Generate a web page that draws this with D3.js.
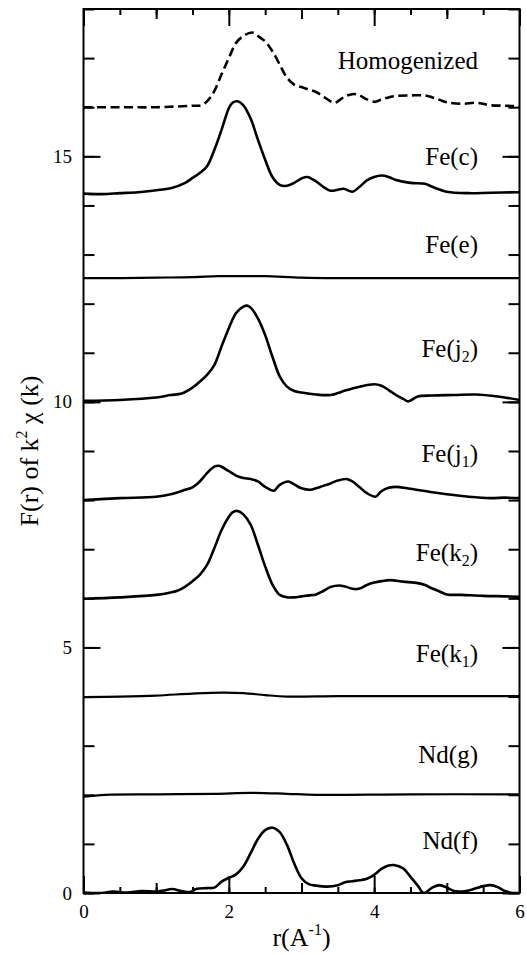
<!DOCTYPE html>
<html>
<head>
<meta charset="utf-8">
<script src="https://cdn.jsdelivr.net/npm/d3@7"></script>
<style>
  html, body { margin: 0; padding: 0; background: #fff; }
  svg { display: block; }
  svg text { font-family: "Liberation Serif", "DejaVu Serif", "Times New Roman", serif; }
</style>
</head>
<body>
<svg id="chart" width="527" height="954"></svg>
<script>
// ---- data -----------------------------------------------------------------
// Fourier-transform magnitude F(r) of k^2 chi(k) for each site, stacked with a vertical offset.
const seriesNames = ["Homogenized", "Fe(c)", "Fe(e)", "Fe(j_2)", "Fe(j_1)", "Fe(k_2)", "Fe(k_1)", "Nd(g)", "Nd(f)"];
const offsets     = [16.0, 14.2, 12.5, 10.0, 8.0, 6.0, 4.0, 2.0, 0.0];
// level (axis units) at which each site name is written
const labelLevel  = [16.77, 14.83, 13.03, 10.91, 8.77, 6.77, 4.71, 2.64, 0.9];

const rHomog = [0,0.5,1.0,1.5,1.62,1.7,1.8,1.9,2.0,2.1,2.2,2.32,2.4,2.5,2.6,2.7,2.8,2.9,3.0,3.1,3.2,3.3,3.4,3.46,3.5,3.6,3.72,3.8,3.9,4.02,4.1,4.2,4.3,4.5,4.7,4.8,4.9,5.0,5.2,5.4,5.5,5.6,5.8,6.0];
const fHomog = [0,0,0,0.03,0.04,0.12,0.33,0.67,1.0,1.31,1.45,1.52,1.45,1.34,1.14,0.87,0.6,0.46,0.41,0.36,0.31,0.22,0.12,0.09,0.12,0.22,0.27,0.24,0.16,0.11,0.16,0.2,0.23,0.24,0.24,0.2,0.15,0.1,0.07,0.09,0.07,0.04,0.03,0.02];

const rFeC = [0,0.25,0.5,0.75,1.0,1.2,1.4,1.5,1.6,1.7,1.8,1.9,2.0,2.05,2.12,2.2,2.3,2.4,2.5,2.6,2.7,2.8,2.9,3.0,3.08,3.2,3.3,3.4,3.5,3.58,3.7,3.8,3.9,4.0,4.1,4.2,4.3,4.5,4.7,4.8,5.0,5.3,5.6,6.0];
const fFeC = [0.04,0.03,0.05,0.07,0.11,0.15,0.26,0.36,0.46,0.60,0.93,1.34,1.78,1.89,1.92,1.84,1.57,1.14,0.73,0.38,0.22,0.20,0.26,0.35,0.38,0.29,0.18,0.10,0.12,0.14,0.08,0.18,0.31,0.38,0.41,0.38,0.32,0.26,0.24,0.18,0.08,0.05,0.06,0.07];

const rFeE = [0,0.5,1.0,1.5,1.85,2.2,2.5,3.0,3.5,4.5,6.0];
const fFeE = [0.02,0.02,0.03,0.04,0.06,0.06,0.06,0.03,0.02,0.02,0.02];

const rFeJ2 = [0,0.5,1.0,1.2,1.35,1.5,1.6,1.7,1.8,1.9,2.0,2.1,2.2,2.25,2.3,2.4,2.5,2.6,2.7,2.8,2.9,3.0,3.2,3.4,3.5,3.6,3.8,4.0,4.1,4.2,4.3,4.4,4.47,4.6,4.8,5.1,5.4,5.7,6.0];
const fFeJ2 = [0.02,0.04,0.09,0.14,0.17,0.29,0.41,0.55,0.75,1.13,1.50,1.81,1.94,1.96,1.92,1.70,1.36,0.92,0.52,0.31,0.22,0.19,0.15,0.14,0.18,0.23,0.31,0.36,0.33,0.24,0.14,0.06,0.01,0.11,0.13,0.14,0.15,0.11,0.04];

const rFeJ1 = [0,0.5,1.0,1.2,1.4,1.5,1.6,1.7,1.8,1.86,1.9,2.0,2.1,2.2,2.3,2.4,2.5,2.62,2.7,2.82,2.9,3.0,3.12,3.2,3.3,3.4,3.5,3.62,3.7,3.8,3.9,4.02,4.1,4.2,4.3,4.5,4.8,5.0,5.3,5.6,5.8,6.0];
const fFeJ1 = [0.00,0.04,0.07,0.12,0.21,0.26,0.38,0.55,0.68,0.70,0.68,0.59,0.50,0.45,0.43,0.38,0.27,0.19,0.31,0.38,0.32,0.24,0.21,0.24,0.29,0.34,0.40,0.43,0.38,0.26,0.14,0.07,0.18,0.25,0.27,0.23,0.16,0.12,0.07,0.04,0.05,0.04];

const rFeK2 = [0,0.5,1.0,1.2,1.3,1.4,1.5,1.6,1.7,1.8,1.9,2.0,2.05,2.12,2.2,2.3,2.4,2.5,2.6,2.7,2.8,2.9,3.0,3.1,3.2,3.3,3.4,3.52,3.6,3.72,3.8,3.9,4.0,4.1,4.22,4.4,4.6,4.7,4.8,4.9,5.0,5.2,5.5,5.8,6.0];
const fFeK2 = [-0.01,0.02,0.07,0.12,0.16,0.24,0.35,0.48,0.68,1.02,1.39,1.66,1.75,1.78,1.71,1.50,1.09,0.65,0.28,0.07,0.02,0.02,0.04,0.06,0.08,0.15,0.23,0.26,0.24,0.19,0.20,0.27,0.32,0.35,0.37,0.34,0.31,0.27,0.20,0.14,0.08,0.07,0.05,0.04,0.03];

const rFeK1 = [0,0.5,1.0,1.5,1.9,2.2,2.5,2.8,3.5,4.5,6.0];
const fFeK1 = [-0.01,0.0,0.02,0.06,0.08,0.07,0.03,0.0,0.01,0.01,0.01];

const rNdG = [0,0.3,1.0,1.8,2.3,2.8,3.2,4.5,6.0];
const fNdG = [-0.04,0.0,0.01,0.02,0.04,0.02,0.0,0.01,0.01];

const rNdF = [0,0.25,0.4,0.6,0.8,1.0,1.1,1.22,1.35,1.47,1.55,1.7,1.8,1.9,2.0,2.1,2.2,2.3,2.4,2.5,2.6,2.7,2.8,2.9,3.0,3.1,3.2,3.35,3.5,3.6,3.7,3.8,3.9,4.0,4.1,4.2,4.27,4.4,4.5,4.6,4.68,4.8,4.9,5.0,5.1,5.2,5.3,5.5,5.6,5.7,5.8,5.9,6.0];
const fNdF = [0.01,0,0.03,0.01,0.04,0.03,0.05,0.08,0.04,0.02,0.08,0.1,0.11,0.23,0.31,0.38,0.54,0.81,1.10,1.28,1.33,1.24,0.98,0.60,0.30,0.18,0.15,0.13,0.16,0.22,0.24,0.26,0.29,0.37,0.49,0.56,0.57,0.50,0.33,0.15,0.0,0.11,0.16,0.11,0.04,0.03,0.05,0.14,0.16,0.12,0.04,0.0,0.0];

const rGrids  = [rHomog, rFeC, rFeE, rFeJ2, rFeJ1, rFeK2, rFeK1, rNdG, rNdF];
const fValues = [fHomog, fFeC, fFeE, fFeJ2, fFeJ1, fFeK2, fFeK1, fNdG, fNdF];

// axis ticks
const rDomain = [0, 6];
const fDomain = [0, 18];
const xTickLabels = [0, 2, 4, 6];
const yTickLabels = [0, 5, 10, 15];

// ---- drawing --------------------------------------------------------------
const FONT = '"Liberation Serif", "DejaVu Serif", "Times New Roman", serif';
const svg = d3.select("#chart");
svg.append("rect").attr("width", 527).attr("height", 954).attr("fill", "#fff");

const X0 = 83.5, X1 = 519.5, Y0 = 9, Y1 = 893;
const x = d3.scaleLinear().domain(rDomain).range([X0, X1]);
const y = d3.scaleLinear().domain(fDomain).range([Y1, Y0]);

svg.append("clipPath").attr("id", "plotClip")
  .append("rect").attr("x", X0).attr("y", Y0).attr("width", X1 - X0).attr("height", Y1 - Y0);

// tick helper: inward ticks, no domain path
function tickGroup(axis, transform, values, len, withLabels, pad) {
  axis.tickValues(values).tickSize(-len).tickPadding(pad || 0)
      .tickFormat(withLabels ? d3.format("d") : () => "");
  const g = svg.append("g").attr("transform", transform).call(axis);
  g.attr("font-family", null).attr("font-size", null);
  g.select(".domain").remove();
  g.selectAll(".tick line").attr("stroke", "#000").attr("stroke-width", 2);
  g.selectAll(".tick text").style("font-family", FONT).style("font-size", "19px").attr("fill", "#000");
  return g;
}

const halfSteps = d3.range(0, 6.001, 0.5);
const oddInts = [1, 3, 5];
const yInts = d3.range(0, 19);

// bottom / top
tickGroup(d3.axisBottom(x), `translate(0,${Y1})`, halfSteps, 6, false);
tickGroup(d3.axisBottom(x), `translate(0,${Y1})`, oddInts, 10, false);
tickGroup(d3.axisBottom(x), `translate(0,${Y1})`, xTickLabels, 17, true, 11.5);
tickGroup(d3.axisTop(x), `translate(0,${Y0})`, halfSteps, 6, false);
tickGroup(d3.axisTop(x), `translate(0,${Y0})`, oddInts, 10, false);
tickGroup(d3.axisTop(x), `translate(0,${Y0})`, xTickLabels, 17, false);
// left / right
tickGroup(d3.axisLeft(y), `translate(${X0},0)`, yInts, 11, false);
tickGroup(d3.axisLeft(y), `translate(${X0},0)`, yTickLabels, 17, true, 11.5);
tickGroup(d3.axisRight(y), `translate(${X1},0)`, yInts, 11, false);
tickGroup(d3.axisRight(y), `translate(${X1},0)`, yTickLabels, 17, false);

// frame
svg.append("rect")
  .attr("x", X0).attr("y", Y0).attr("width", X1 - X0).attr("height", Y1 - Y0)
  .attr("fill", "none").attr("stroke", "#000").attr("stroke-width", 2);

// curves
const curves = svg.append("g").attr("clip-path", "url(#plotClip)");
seriesNames.forEach((name, i) => {
  const pts = rGrids[i].map((r, j) => [r, fValues[i][j] + offsets[i]]);
  const line = d3.line()
    .x(d => x(d[0]))
    .y(d => y(d[1]))
    .curve(d3.curveCatmullRom.alpha(0.5));
  const flat = d3.max(fValues[i]) < 0.2;
  curves.append("path")
    .attr("d", line(pts))
    .attr("fill", "none")
    .attr("stroke", "#000")
    .attr("stroke-width", flat ? 2.2 : 2.6)
    .attr("stroke-linejoin", "round")
    .attr("stroke-dasharray", i === 0 ? "9,4.5" : null);
});

// site labels (text after "_" is a subscript)
seriesNames.forEach((name, i) => {
  const t = svg.append("text")
    .attr("x", 478).attr("y", y(labelLevel[i]))
    .attr("text-anchor", "end")
    .style("font-size", "25px").attr("fill", "#000");
  const m = name.match(/^(.*)_(\d)(.*)$/);
  if (m) {
    t.append("tspan").text(m[1]);
    t.append("tspan").style("font-size", "16px").attr("dy", 5).text(m[2]);
    t.append("tspan").attr("dy", -5).text(m[3]);
  } else {
    t.text(name);
  }
});

// axis titles
const xt = svg.append("text")
  .attr("x", (X0 + X1) / 2).attr("y", 946)
  .attr("text-anchor", "middle")
  .style("font-size", "26px").attr("fill", "#000");
xt.append("tspan").text("r(A");
xt.append("tspan").style("font-size", "16px").attr("dy", -11).text("-1");
xt.append("tspan").attr("dy", 11).text(")");

const yt = svg.append("text")
  .attr("transform", `translate(38,${(Y0 + Y1) / 2}) rotate(-90)`)
  .attr("text-anchor", "middle")
  .style("font-size", "26px").attr("fill", "#000");
yt.append("tspan").text("F(r) of k");
yt.append("tspan").style("font-size", "16px").attr("dy", -11).text("2");
yt.append("tspan").attr("dy", 11).text(" \u03C7 (k)");
</script>
</body>
</html>
